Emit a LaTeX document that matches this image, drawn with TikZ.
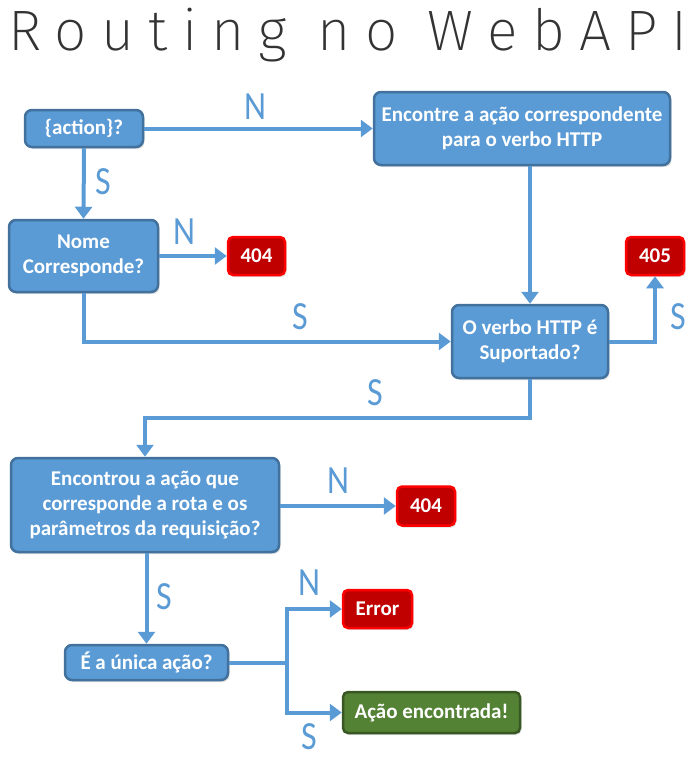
\documentclass[tikz,border=0pt]{standalone}
\usepackage{fontspec}
\setmainfont{Carlito}
\newfontfamily\titlefont[LetterSpace=25]{Fira Sans ExtraLight}
\usetikzlibrary{arrows.meta,shadows}
\definecolor{bfill}{HTML}{5B9BD5}
\definecolor{bdraw}{HTML}{41719C}
\definecolor{rfill}{HTML}{C00000}
\definecolor{rdraw}{HTML}{FF0000}
\definecolor{gfill}{HTML}{548235}
\definecolor{gdraw}{HTML}{385723}
\definecolor{arr}{HTML}{5B9BD5}
\begin{document}
\begin{tikzpicture}[x=1pt,y=-1pt,
  base/.style={rounded corners=7pt,line width=2.5pt,text=white,align=center,
    font=\fontsize{21}{25}\selectfont\bfseries,inner sep=0pt,
    drop shadow={opacity=0.25,shadow xshift=1.5pt,shadow yshift=-2pt}},
  bluebox/.style={base,fill=bfill,draw=bdraw},
  redbox/.style={base,fill=rfill,draw=rdraw,rounded corners=5pt},
  greenbox/.style={base,fill=gfill,draw=gdraw,rounded corners=5pt},
  conn/.style={draw=arr,line width=4pt,-{Triangle[length=12pt,width=17pt]}},
  plain/.style={draw=arr,line width=4pt},
  lab/.style={text=arr,font=\fontsize{40}{40}\selectfont,inner sep=0pt}]
\useasboundingbox (0,0) rectangle (698,768);
\node[text=black!80,font=\titlefont\fontsize{57}{57}\selectfont,inner sep=0pt] (title) at (348,35) {Routing no WebAPI};

\node[bluebox,minimum width=118pt,minimum height=37pt] (action) at (84,128.5) {\{action\}?};
\node[bluebox,minimum width=296pt,minimum height=73pt] (encontre) at (522,128.5) {Encontre a ação correspondente\\para o verbo HTTP};
\node[bluebox,minimum width=149pt,minimum height=72pt] (nome) at (83.5,256) {Nome\\Corresponde?};
\node[redbox,minimum width=57pt,minimum height=38pt] (e404a) at (256.5,256) {404};
\node[bluebox,minimum width=156pt,minimum height=73pt] (verbo) at (530,341.5) {O verbo HTTP é\\Suportado?};
\node[redbox,minimum width=58pt,minimum height=38pt] (e405) at (655,256) {405};
\node[bluebox,minimum width=268pt,minimum height=94pt] (encontrou) at (145,505) {Encontrou a ação que\\corresponde a rota e os\\parâmetros da requisição?};
\node[redbox,minimum width=58pt,minimum height=39pt] (e404b) at (426,506) {404};
\node[bluebox,minimum width=163pt,minimum height=35pt] (unica) at (146.5,662.5) {É a única ação?};
\node[redbox,minimum width=69pt,minimum height=38pt] (error) at (377.5,609) {Error};
\node[greenbox,minimum width=177pt,minimum height=41pt] (acao) at (431.5,712.5) {Ação encontrada!};

\coordinate (j) at (287,662.5);
\coordinate (k) at (530,418);

\draw[conn] (action.east) -- (encontre.west);
\draw[conn] (action.south) -- (nome.north);
\draw[conn] (nome.east) -- (e404a.west);
\draw[conn] (verbo.north |- encontre.south) -- (verbo.north);
\draw[conn] (nome.south) |- (verbo.west);
\draw[conn] (verbo.east) -| (e405.south);
\draw[conn] (verbo.south) -- (k) -| (encontrou.north);
\draw[conn] (encontrou.east |- e404b.west) -- (e404b.west);
\draw[conn] (encontrou.south -| unica.north) -- (unica.north);
\draw[plain] (unica.east) -- (j);
\draw[conn] (j) |- (error.west);
\draw[conn] (j) |- (acao.west);

\node[lab] (l1) at (255,107) {\scalebox{0.85}[1]{N}};
\node[lab] (l2) at (103,182) {\scalebox{0.85}[1]{S}};
\node[lab] (l3) at (184,232) {\scalebox{0.85}[1]{N}};
\node[lab] (l4) at (300,317) {\scalebox{0.85}[1]{S}};
\node[lab] (l5) at (678,317) {\scalebox{0.85}[1]{S}};
\node[lab] (l6) at (375,393) {\scalebox{0.85}[1]{S}};
\node[lab] (l7) at (338,481) {\scalebox{0.85}[1]{N}};
\node[lab] (l8) at (164,597) {\scalebox{0.85}[1]{S}};
\node[lab] (l9) at (309,583) {\scalebox{0.85}[1]{N}};
\node[lab] (l10) at (309,737) {\scalebox{0.85}[1]{S}};
\end{tikzpicture}
\end{document}
